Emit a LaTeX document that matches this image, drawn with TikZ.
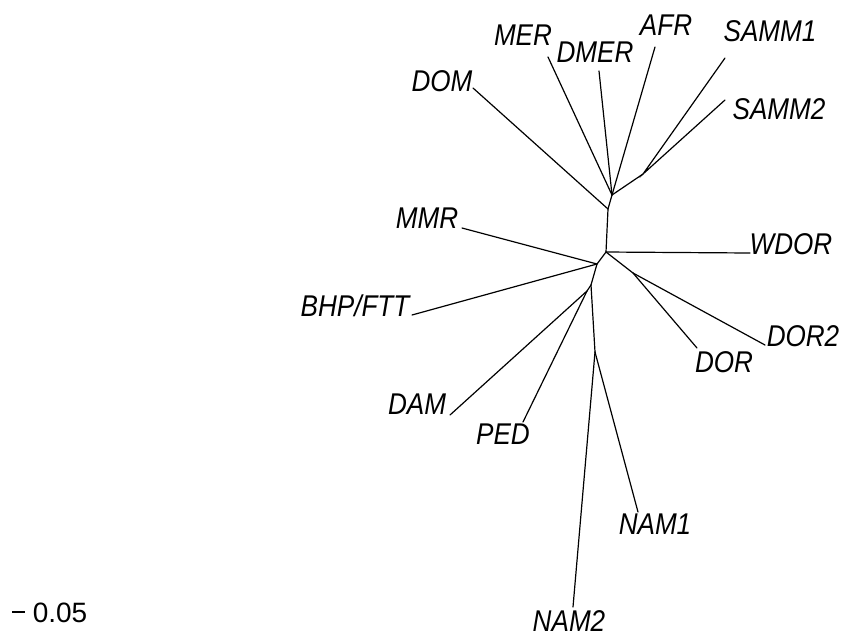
\documentclass[tikz,border=0pt]{standalone}
\usepackage{fontspec}
\setmainfont{Liberation Sans}
\usepackage{graphicx}
\newcommand{\taxlab}[1]{\scalebox{0.87}[1]{\itshape #1}}
\begin{document}
\begin{tikzpicture}[x=1pt,y=-1pt,
  lbl/.style={inner sep=0pt, anchor=base, font=\fontsize{30}{30}\selectfont},
  br/.style={line width=1.2pt, black, line cap=round}]
\useasboundingbox[fill=white] (0,0) rectangle (846,641);
% labels
\node[lbl] (lDOM)   at (442,91)  {\taxlab{DOM}};
\node[lbl] (lMER)   at (523,45)  {\taxlab{MER}};
\node[lbl] (lDMER)  at (595,62)  {\taxlab{DMER}};
\node[lbl] (lAFR)   at (666,35)  {\taxlab{AFR}};
\node[lbl] (lSAMM1) at (770,41)  {\taxlab{SAMM1}};
\node[lbl] (lSAMM2) at (779,119) {\taxlab{SAMM2}};
\node[lbl] (lMMR)   at (427,228) {\taxlab{MMR}};
\node[lbl] (lBHP)   at (355,316) {\taxlab{BHP/FTT}};
\node[lbl] (lWDOR)  at (791,254) {\taxlab{WDOR}};
\node[lbl] (lDOR2)  at (803,346) {\taxlab{DOR2}};
\node[lbl] (lDOR)   at (724,372) {\taxlab{DOR}};
\node[lbl] (lDAM)   at (417,414) {\taxlab{DAM}};
\node[lbl] (lPED)   at (503,444) {\taxlab{PED}};
\node[lbl] (lNAM1)  at (655,534) {\taxlab{NAM1}};
\node[lbl] (lNAM2)  at (569,631) {\taxlab{NAM2}};
\node[lbl, font=\fontsize{28}{28}\selectfont] (lscale) at (60,622) {0.05};
% tips
\coordinate (tDOM)   at (473,88);
\coordinate (tMER)   at (548,57);
\coordinate (tDMER)  at (599,71);
\coordinate (tAFR)   at (655,47);
\coordinate (tSAMM1) at (725,58);
\coordinate (tSAMM2) at (725,100);
\coordinate (tMMR)   at (462,228);
\coordinate (tBHP)   at (412,315);
\coordinate (tWDOR)  at (750,253);
\coordinate (tDOR2)  at (765,345);
\coordinate (tDOR)   at (697,348);
\coordinate (tDAM)   at (450,415);
\coordinate (tPED)   at (523,422);
\coordinate (tNAM1)  at (638,512);
\coordinate (tNAM2)  at (573,607);
% internal nodes
\coordinate (S)  at (643,174);
\coordinate (U2) at (612,195);
\coordinate (U1) at (608,209);
\coordinate (L1) at (606,252);
\coordinate (L2) at (633,273);
\coordinate (C)  at (597,264);
\coordinate (D)  at (591,285);
\coordinate (E)  at (587,291);
\coordinate (N)  at (595,352);
% scale bar
\coordinate (sb1) at (12,612);
\coordinate (sb2) at (25,612);
% branches
\draw[br] (tSAMM1) -- (S) -- (tSAMM2);
\draw[br] (S) -- (U2);
\draw[br] (tMER) -- (U2);
\draw[br] (tDMER) -- (U2);
\draw[br] (tAFR) -- (U2);
\draw[br] (U2) -- (U1);
\draw[br] (tDOM) -- (U1);
\draw[br] (U1) -- (L1);
\draw[br] (L1) -- (tWDOR);
\draw[br] (L1) -- (L2);
\draw[br] (L2) -- (tDOR2);
\draw[br] (L2) -- (tDOR);
\draw[br] (L1) -- (C);
\draw[br] (tMMR) -- (C);
\draw[br] (tBHP) -- (C);
\draw[br] (C) -- (D);
\draw[br] (D) -- (E);
\draw[br] (E) -- (tDAM);
\draw[br] (E) -- (tPED);
\draw[br] (D) -- (N);
\draw[br] (N) -- (tNAM1);
\draw[br] (N) -- (tNAM2);
\draw[line width=1.2pt] (sb1) -- (sb2);
\end{tikzpicture}
\end{document}
